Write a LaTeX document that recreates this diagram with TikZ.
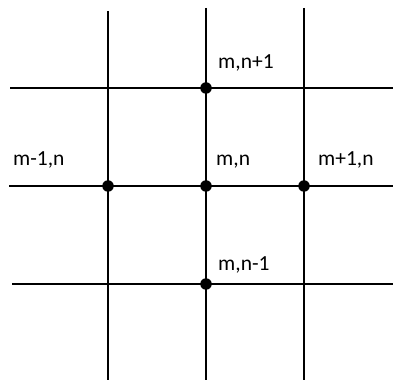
\documentclass[tikz,border=0pt]{standalone}
\usepackage{fontspec}
\setmainfont{Carlito}
\usetikzlibrary{positioning}

\tikzset{
  gridline/.style={line width=2.9pt,black},
  gridpt/.style={circle,fill=black,inner sep=0pt,minimum size=11.5pt},
  ptlabel/.style={anchor=base west,inner sep=0pt,font=\fontsize{21.5}{25}\selectfont}
}

\begin{document}
\begin{tikzpicture}[x=1pt,y=1pt]
\useasboundingbox (0,0) rectangle (393,380);
% grid lines
\foreach \x/\top in {108/369, 206/372, 304/372}{
  \draw[gridline] (\x,\top) -- (\x,0);
}
\foreach \y/\left in {292/10, 194/9, 96/12}{
  \draw[gridline] (\left,\y) -- (393,\y);
}
% mesh points
\node[gridpt] (mn)  at (206,194) {};
\node[gridpt] (mn1) at (206,292) {};
\node[gridpt] (mnm) at (206,96) {};
\node[gridpt] (mmn) at (108,194) {};
\node[gridpt] (m1n) at (304,194) {};
% labels
\node[ptlabel] (lmn1) at (218,311) {m,n+1};
\node[ptlabel] (lmmn) at (13,214) {m-1,n};
\node[ptlabel] (lmn)  at (216,214) {m,n};
\node[ptlabel] (lm1n) at (318,214) {m+1,n};
\node[ptlabel] (lmnm) at (218,109) {m,n-1};
\end{tikzpicture}
\end{document}
